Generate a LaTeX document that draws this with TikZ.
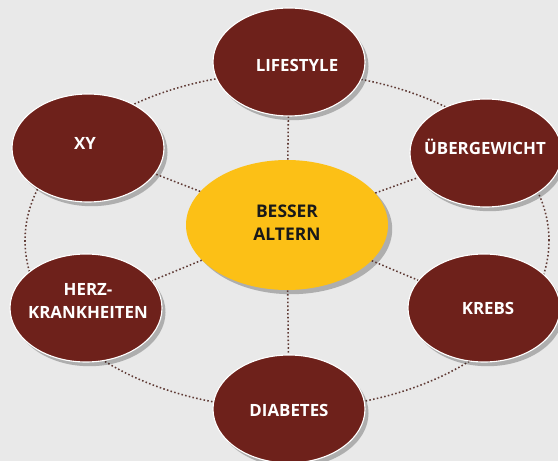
\documentclass[tikz,border=0pt]{standalone}
\usepackage{fontspec}
\setmainfont{Open Sans}
\usetikzlibrary{shapes.geometric, shadows}
\definecolor{mybrown}{RGB}{110,33,27}
\definecolor{myyellow}{RGB}{252,192,22}
\definecolor{mybg}{RGB}{233,233,233}
\definecolor{mydot}{RGB}{95,58,52}
\tikzstyle{bubble} = [ellipse, draw=white, line width=0.8, fill=mybrown,
    minimum width=3.8cm, minimum height=2.7cm, inner sep=0,
    drop shadow={shadow xshift=2.5pt, shadow yshift=-3pt, opacity=0.25, fill=black}]
\tikzstyle{core} = [ellipse, draw=none, fill=myyellow,
    minimum width=5.05cm, minimum height=3.25cm, inner sep=0,
    drop shadow={shadow xshift=3pt, shadow yshift=-3pt, opacity=0.25, fill=black}]
\tikzstyle{txt} = [text=white, font=\fontsize{12}{16.5}\selectfont\bfseries, align=center]
\tikzstyle{txt2} = [text=black!90, font=\fontsize{12.4}{16.5}\selectfont\bfseries, align=center]
\tikzstyle{dots} = [draw=mydot, line width=1.1, dash pattern=on 1.1pt off 1.6pt]

\begin{document}
\begin{tikzpicture}

\fill[mybg] (-7.175,5.625) rectangle (6.775,-5.9);
\useasboundingbox (-7.175,5.625) rectangle (6.775,-5.9);

%%% ring
\draw[dots] (0,-0.39) ellipse [x radius=6.55, y radius=4.2];

%%% center
\node[core] (besser) at (0,0) {};
\node[txt2] at (0,0.05) {BESSER\\ALTERN};

%%% outer bubbles
\node[bubble] (lif) at (0.05,4.075) {};
\node[txt] at (0.25,4.0) {LIFESTYLE};

\node[bubble] (xy) at (-4.975,1.925) {};
\node[txt] at (-5.05,2.05) {XY};

\node[bubble] (ueb) at (4.975,1.8) {};
\node[txt] at (4.95,1.95) {ÜBERGEWICHT};

\node[bubble] (herz) at (-5.025,-2.075) {};
\node[txt] at (-4.975,-1.9) {HERZ-\\KRANKHEITEN};

\node[bubble] (krebs) at (4.925,-2.075) {};
\node[txt] at (5.025,-2.075) {KREBS};

\node[bubble] (diab) at (0.05,-4.6) {};
\node[txt] at (0.05,-4.625) {DIABETES};

%%% spokes
\foreach \n in {lif, xy, ueb, herz, krebs, diab}
    \draw[dots] (besser) -- (\n);

\end{tikzpicture}
\end{document}
